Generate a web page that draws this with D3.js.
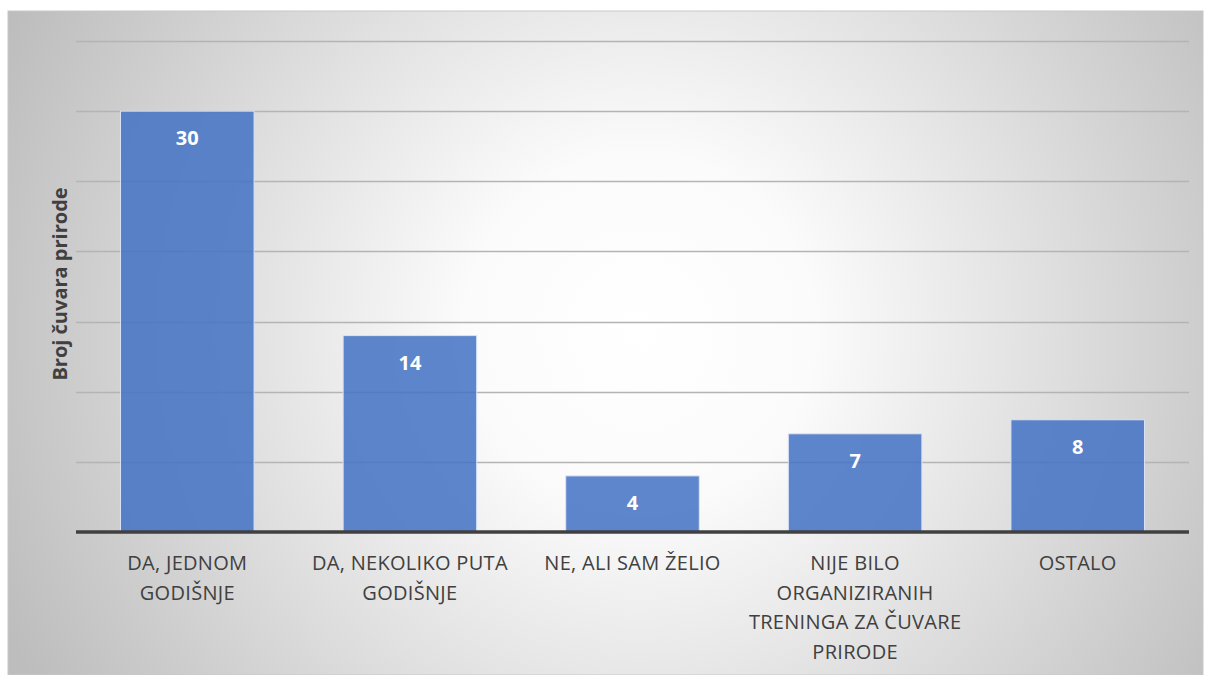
<!DOCTYPE html>
<html>
<head>
<meta charset="utf-8">
<script src="https://cdn.jsdelivr.net/npm/d3@7"></script>
<style>
  body { margin: 0; background: #fff; }
  svg { display: block; }
</style>
</head>
<body>
<div id="chart"></div>
<script>
// data
const categories = ['DA, JEDNOM GODIŠNJE', 'DA, NEKOLIKO PUTA GODIŠNJE', 'NE, ALI SAM ŽELIO',
                    'NIJE BILO ORGANIZIRANIH TRENINGA ZA ČUVARE PRIRODE', 'OSTALO'];
const values = [30, 14, 4, 7, 8];
const yTicks = [0, 5, 10, 15, 20, 25, 30, 35];
const yTitle = 'Broj čuvara prirode';

let dim = { width: 1208, height: 675 };
let plot = { left: 76, right: 1189, top: 41, bottom: 532 };

let svg = d3.select('#chart').append('svg')
    .attr('width', dim.width)
    .attr('height', dim.height);

// radial background like the office chart area
let defs = svg.append('defs');
let grad = defs.append('radialGradient')
    .attr('id', 'bg')
    .attr('gradientUnits', 'userSpaceOnUse')
    .attr('cx', 640).attr('cy', 330).attr('r', 700);
grad.append('stop').attr('offset', '0%').attr('stop-color', '#ffffff');
grad.append('stop').attr('offset', '25%').attr('stop-color', '#fbfbfb');
grad.append('stop').attr('offset', '100%').attr('stop-color', '#bdbdbd');

svg.append('rect')
    .attr('x', 8).attr('y', 11)
    .attr('width', 1195).attr('height', 664)
    .attr('fill', 'url(#bg)')
    .attr('stroke', '#c8c8c8')
    .attr('stroke-width', 1);

let x = d3.scaleBand()
    .domain(categories)
    .range([plot.left, plot.right])
    .paddingInner(0.4)
    .paddingOuter(0.2);

let y = d3.scaleLinear()
    .domain([0, 35])
    .range([plot.bottom, plot.top]);

// gridlines
svg.append('g')
    .selectAll('line')
    .data(yTicks.filter(d => d > 0))
    .join('line')
    .attr('x1', plot.left).attr('x2', plot.right)
    .attr('y1', d => Math.round(y(d)) + 0.5)
    .attr('y2', d => Math.round(y(d)) + 0.5)
    .attr('stroke', '#b4b4b4')
    .attr('stroke-width', 1.5);

// bars
svg.append('g')
    .selectAll('rect')
    .data(values)
    .join('rect')
    .attr('x', (d, i) => x(categories[i]))
    .attr('y', d => y(d))
    .attr('width', x.bandwidth())
    .attr('height', d => y(0) - y(d))
    .attr('fill', '#4472c4')
    .attr('fill-opacity', 0.86)
    .attr('stroke', '#dbe4f5')
    .attr('stroke-width', 1);

// value labels
svg.append('g')
    .selectAll('text')
    .data(values)
    .join('text')
    .attr('x', (d, i) => x(categories[i]) + x.bandwidth() / 2)
    .attr('y', d => y(d) + 34)
    .attr('text-anchor', 'middle')
    .attr('font-family', 'Open Sans, sans-serif')
    .attr('font-weight', 'bold')
    .attr('font-size', 20)
    .attr('fill', '#ffffff')
    .text(d => d);

// baseline
svg.append('line')
    .attr('x1', plot.left).attr('x2', plot.right)
    .attr('y1', y(0)).attr('y2', y(0))
    .attr('stroke', '#404040')
    .attr('stroke-width', 3.5);

// category labels, wrapped to the band step
let xAxis = svg.append('g')
    .attr('transform', 'translate(0,' + plot.bottom + ')')
    .call(d3.axisBottom(x).tickSize(0).tickPadding(0));
xAxis.select('.domain').remove();
xAxis.selectAll('text')
    .attr('font-family', 'Open Sans, sans-serif')
    .attr('font-size', 20)
    .attr('letter-spacing', 0.3)
    .attr('fill', '#404040')
    .attr('dy', null)
    .attr('y', 38)
    .call(wrap, x.step());

function wrap(texts, width) {
    texts.each(function() {
        let text = d3.select(this);
        let words = text.text().split(/\s+/);
        let line = [];
        let lineNo = 0;
        let tspan = text.text(null).append('tspan').attr('x', 0).attr('y', 38);
        words.forEach(function(w) {
            line.push(w);
            tspan.text(line.join(' '));
            if (tspan.node().getComputedTextLength() > width - 2 && line.length > 1) {
                line.pop();
                tspan.text(line.join(' '));
                line = [w];
                lineNo++;
                tspan = text.append('tspan').attr('x', 0)
                    .attr('y', 38 + lineNo * 29.5).text(w);
            }
        });
    });
}

// y axis title
svg.append('text')
    .attr('transform', 'translate(67,284) rotate(-90)')
    .attr('text-anchor', 'middle')
    .attr('font-family', 'Open Sans, sans-serif')
    .attr('font-weight', 'bold')
    .attr('font-size', 20)
    .attr('fill', '#404040')
    .text(yTitle);
</script>
</body>
</html>
